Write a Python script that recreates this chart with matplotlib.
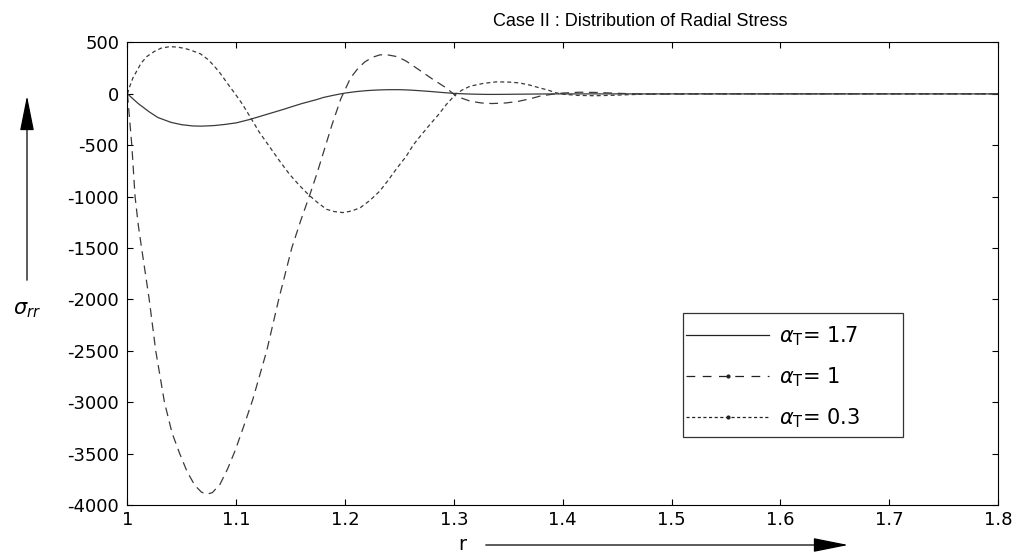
import numpy as np
import matplotlib
matplotlib.use('Agg')
import matplotlib.pyplot as plt
from matplotlib.lines import Line2D
from matplotlib.patches import Rectangle

# r values and radial stress for each alpha_T
r_17 = [1.00, 1.01, 1.02, 1.028, 1.04, 1.05, 1.06, 1.068, 1.08, 1.089, 1.10, 1.112,
        1.12, 1.13, 1.143, 1.15, 1.16, 1.174, 1.18, 1.19, 1.20, 1.21, 1.22, 1.23,
        1.24, 1.25, 1.26, 1.27, 1.28, 1.29, 1.30, 1.31, 1.32, 1.33, 1.34, 1.36,
        1.38, 1.40, 1.50, 1.60, 1.70, 1.80]
s_17 = [0, -95, -175, -230, -277, -300, -312, -314, -308, -298, -282, -250,
        -225, -193, -152, -128, -95, -55, -35, -12, 8, 22, 32, 38,
        41, 41, 37, 30, 22, 13, 5, 0, -3, -5, -5, -3,
        -1, 0, 0, 0, 0, 0]

r_10 = [1.000, 1.002, 1.004, 1.007, 1.010, 1.013, 1.020, 1.026, 1.034, 1.041, 1.048,
        1.055, 1.062, 1.068, 1.073, 1.078, 1.085, 1.092, 1.099, 1.107, 1.115, 1.128,
        1.139, 1.151, 1.159, 1.167, 1.174, 1.181, 1.188, 1.196, 1.205, 1.212, 1.218,
        1.225, 1.232, 1.240, 1.248, 1.256, 1.263, 1.272, 1.281, 1.293, 1.302, 1.315,
        1.325, 1.335, 1.348, 1.360, 1.370, 1.379, 1.390, 1.400, 1.415, 1.430, 1.445,
        1.460, 1.475, 1.50, 1.55, 1.60, 1.70, 1.80]
s_10 = [0, -250, -500, -1000, -1280, -1500, -2000, -2500, -3000, -3300, -3500,
        -3680, -3810, -3875, -3895, -3880, -3800, -3650, -3470, -3230, -2980, -2500,
        -2000, -1500, -1240, -1000, -780, -540, -300, -50, 155, 250, 310,
        355, 380, 378, 362, 320, 270, 205, 139, 58, -22, -71,
        -88, -94, -88, -71, -48, -22, -4, 8, 16, 14, 8,
        2, -2, -2, 0, 0, 0, 0]

r_03 = [1.000, 1.002, 1.005, 1.0126, 1.018, 1.025, 1.031, 1.039, 1.046, 1.053, 1.059,
        1.067, 1.074, 1.080, 1.086, 1.092, 1.099, 1.105, 1.112, 1.121, 1.131, 1.140,
        1.149, 1.158, 1.166, 1.175, 1.183, 1.190, 1.198, 1.206, 1.214, 1.223, 1.232,
        1.240, 1.248, 1.256, 1.263, 1.270, 1.278, 1.286, 1.293, 1.302, 1.308, 1.315,
        1.327, 1.339, 1.350, 1.360, 1.370, 1.379, 1.387, 1.394, 1.402, 1.415, 1.430,
        1.445, 1.460, 1.475, 1.49, 1.52, 1.55, 1.60, 1.70, 1.80]
s_03 = [0, 70, 155, 300, 365, 415, 445, 460, 455, 442, 422,
        390, 335, 268, 190, 100, 0, -90, -210, -370, -520, -655,
        -783, -890, -977, -1060, -1123, -1145, -1155, -1140, -1107, -1035, -945,
        -835, -718, -610, -492, -400, -298, -200, -104, 0, 40, 75,
        102, 117, 115, 107, 85, 58, 35, 10, -5, -15, -18,
        -14, -8, -3, 0, 1, 0, 0, 0, 0]

labels = [r'$\alpha_{\mathrm{T}}$= 1.7', r'$\alpha_{\mathrm{T}}$= 1', r'$\alpha_{\mathrm{T}}$= 0.3']
xticks = [1, 1.1, 1.2, 1.3, 1.4, 1.5, 1.6, 1.7, 1.8]
xticklabels = ['1', '1.1', '1.2', '1.3', '1.4', '1.5', '1.6', '1.7', '1.8']
yticks = [-4000, -3500, -3000, -2500, -2000, -1500, -1000, -500, 0, 500]

plt.rcParams['font.family'] = ['DejaVu Sans']
plt.rcParams['axes.unicode_minus'] = False

fig = plt.figure(figsize=(10.27, 5.57), dpi=100)
ax = fig.add_axes([0.1241, 0.0934, 0.8476, 0.8303])

ax.plot(r_17, s_17, '-', color='#3a3a3a', lw=0.9)
ax.plot(r_10, s_10, color='#3a3a3a', lw=0.9, dashes=(7, 4.5))
ax.plot(r_03, s_03, color='#3a3a3a', lw=0.9, dashes=(3.2, 2.4))

ax.set_xlim(1, 1.8)
ax.set_ylim(-4000, 500)
ax.set_xticks(xticks)
ax.set_xticklabels(xticklabels)
ax.set_yticks(yticks)
ax.tick_params(direction='in', top=True, right=True, length=4, width=0.8,
               labelsize=13)
ax.tick_params(axis='y', pad=6)
ax.tick_params(axis='x', pad=4)
for sp in ax.spines.values():
    sp.set_linewidth(0.8)

fig.text(640, 536, 'Case II : Distribution of Radial Stress', transform=None,
         family=['Liberation Sans', 'DejaVu Sans'], fontsize=13,
         ha='center', va='center')

handles = [
    Line2D([0, 0.5, 1], [0, 0, 0], color='#222222', lw=0.9, ls='-'),
    Line2D([0, 0.5, 1], [0, 0, 0], color='#222222', lw=0.9, dashes=(7, 6),
           marker='.', markersize=4, markevery=[1]),
    Line2D([0, 0.5, 1], [0, 0, 0], color='#222222', lw=0.9, dashes=(2.5, 2),
           marker='.', markersize=4, markevery=[1]),
]
leg = ax.legend(handles, labels, loc='center left', bbox_to_anchor=(0.6416, 0.2765),
                borderaxespad=0, borderpad=0, fontsize=15, handlelength=4.0,
                handletextpad=0.45, labelspacing=0.85, frameon=False)
ax.add_patch(Rectangle((0.6381, 0.1469), 0.2525, 0.2678, transform=ax.transAxes,
                       facecolor='white', edgecolor='#333333', lw=0.9, zorder=4))
leg.set_zorder(5)

# axis labels with arrows, MATLAB style
arrow = dict(arrowstyle='-|>,head_length=1.1,head_width=0.22',
             color='black', lw=0.9, mutation_scale=20)
fig.text(27, 247, r'$\sigma_{rr}$', transform=None, fontsize=15, ha='center', va='center')
ax.annotate('', xy=(27, 464), xytext=(27, 274), xycoords='figure pixels',
            textcoords='figure pixels', annotation_clip=False, arrowprops=arrow)
fig.text(462, 12, 'r', transform=None, fontsize=14, ha='center', va='center')
ax.annotate('', xy=(851, 12), xytext=(483, 12), xycoords='figure pixels',
            textcoords='figure pixels', annotation_clip=False, arrowprops=arrow)

fig.savefig('out.png', dpi=100)
